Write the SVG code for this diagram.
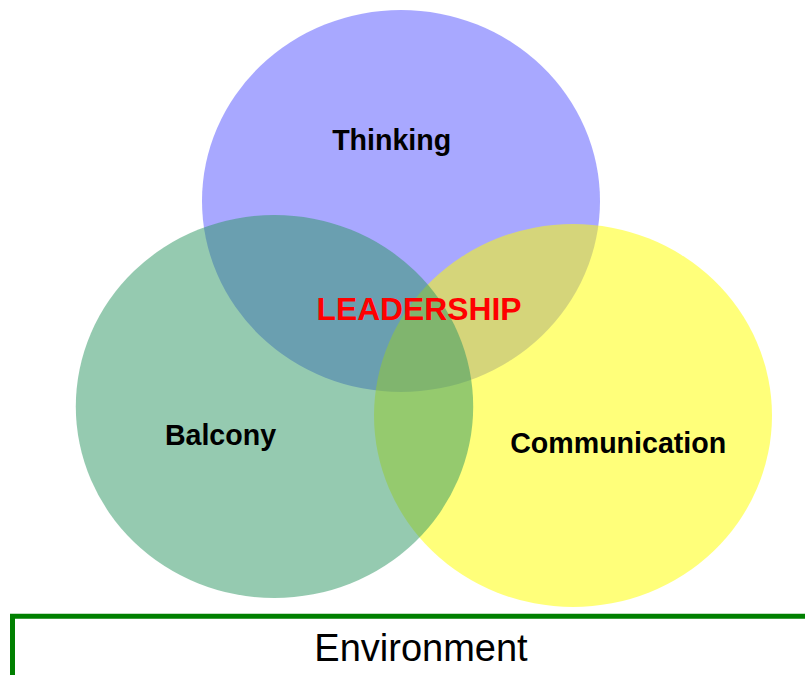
<svg xmlns="http://www.w3.org/2000/svg" width="805" height="675" viewBox="0 0 805 675">
  <style>
    .set { stroke: none; }
    .label { font-family: "Liberation Sans", Arial, sans-serif; font-weight: bold; font-size: 28.6px; fill: #000; text-anchor: middle; }
    .core { font-family: "Liberation Sans", Arial, sans-serif; font-weight: bold; font-size: 31.8px; fill: #ff0000; text-anchor: middle; }
    .env { font-family: "Liberation Sans", Arial, sans-serif; font-size: 38px; fill: #000; text-anchor: middle; }
    .frame { fill: none; stroke: #008000; stroke-width: 5; }
  </style>
  <rect width="805" height="675" fill="#ffffff"/>

  <g id="thinking">
    <ellipse class="set" cx="401" cy="201" rx="199" ry="191" fill="#5151ff" fill-opacity="0.5"/>
  </g>
  <g id="communication">
    <ellipse class="set" cx="573" cy="415.5" rx="199" ry="191.5" fill="#ffff00" fill-opacity="0.52"/>
  </g>
  <g id="balcony">
    <ellipse class="set" cx="274.5" cy="406.5" rx="198.7" ry="191.5" fill="#2b9561" fill-opacity="0.5"/>
  </g>

  <g id="labels">
    <text class="label" x="391.7" y="149.5">Thinking</text>
    <text class="label" x="220.5" y="444.5">Balcony</text>
    <text class="label" x="618.2" y="452.5">Communication</text>
    <text class="core" x="419" y="319.5">LEADERSHIP</text>
  </g>

  <g id="environment">
    <path class="frame" d="M12.5 675 V616.3 H805"/>
    <text class="env" x="421" y="661">Environment</text>
  </g>
</svg>
